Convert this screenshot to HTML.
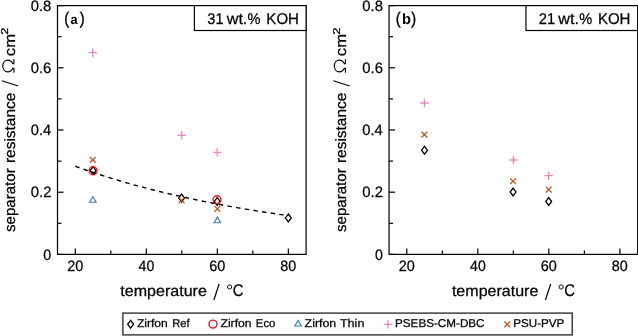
<!DOCTYPE html>
<html><head><meta charset="utf-8"><style>
html,body{margin:0;padding:0;background:#fff;}
svg{display:block;will-change:transform;}
text{font-family:"Liberation Sans",sans-serif;fill:#000;font-kerning:none;text-rendering:geometricPrecision;stroke:#000;stroke-width:0.25px;}
</style></head><body>
<svg width="638" height="336" viewBox="0 0 638 336">
<rect width="638" height="336" fill="#fff"/>
<line x1="57.50" y1="254.40" x2="63.50" y2="254.40" stroke="#000" stroke-width="1.2"/>
<text x="43.34" y="259.60" font-size="15" textLength="7.91" lengthAdjust="spacingAndGlyphs">0</text>
<line x1="57.50" y1="223.30" x2="61.50" y2="223.30" stroke="#000" stroke-width="1.2"/>
<line x1="57.50" y1="192.20" x2="63.50" y2="192.20" stroke="#000" stroke-width="1.2"/>
<text x="30.72" y="197.40" font-size="15" textLength="20.73" lengthAdjust="spacingAndGlyphs">0.2</text>
<line x1="57.50" y1="161.10" x2="61.50" y2="161.10" stroke="#000" stroke-width="1.2"/>
<line x1="57.50" y1="130.00" x2="63.50" y2="130.00" stroke="#000" stroke-width="1.2"/>
<text x="30.73" y="135.20" font-size="15" textLength="20.40" lengthAdjust="spacingAndGlyphs">0.4</text>
<line x1="57.50" y1="98.90" x2="61.50" y2="98.90" stroke="#000" stroke-width="1.2"/>
<line x1="57.50" y1="67.80" x2="63.50" y2="67.80" stroke="#000" stroke-width="1.2"/>
<text x="30.72" y="73.00" font-size="15" textLength="20.63" lengthAdjust="spacingAndGlyphs">0.6</text>
<line x1="57.50" y1="36.70" x2="61.50" y2="36.70" stroke="#000" stroke-width="1.2"/>
<line x1="57.50" y1="5.60" x2="63.50" y2="5.60" stroke="#000" stroke-width="1.2"/>
<text x="30.72" y="10.80" font-size="15" textLength="20.62" lengthAdjust="spacingAndGlyphs">0.8</text>
<line x1="75.26" y1="254.40" x2="75.26" y2="248.40" stroke="#000" stroke-width="1.2"/>
<text x="67.13" y="270.80" font-size="15" textLength="16.09" lengthAdjust="spacingAndGlyphs">20</text>
<line x1="110.77" y1="254.40" x2="110.77" y2="250.40" stroke="#000" stroke-width="1.2"/>
<line x1="146.29" y1="254.40" x2="146.29" y2="248.40" stroke="#000" stroke-width="1.2"/>
<text x="138.56" y="270.80" font-size="15" textLength="15.67" lengthAdjust="spacingAndGlyphs">40</text>
<line x1="181.80" y1="254.40" x2="181.80" y2="250.40" stroke="#000" stroke-width="1.2"/>
<line x1="217.31" y1="254.40" x2="217.31" y2="248.40" stroke="#000" stroke-width="1.2"/>
<text x="209.18" y="270.80" font-size="15" textLength="16.10" lengthAdjust="spacingAndGlyphs">60</text>
<line x1="252.83" y1="254.40" x2="252.83" y2="250.40" stroke="#000" stroke-width="1.2"/>
<line x1="288.34" y1="254.40" x2="288.34" y2="248.40" stroke="#000" stroke-width="1.2"/>
<text x="280.32" y="270.80" font-size="15" textLength="15.99" lengthAdjust="spacingAndGlyphs">80</text>
<path d="M93.10 166.70L96.05 170.60L93.10 174.50L90.15 170.60Z" fill="none" stroke="#000" stroke-width="1.3" stroke-linejoin="miter" stroke-miterlimit="10"/>
<path d="M181.60 194.20L184.55 198.10L181.60 202.00L178.65 198.10Z" fill="none" stroke="#000" stroke-width="1.3" stroke-linejoin="miter" stroke-miterlimit="10"/>
<path d="M217.20 197.50L220.15 201.40L217.20 205.30L214.25 201.40Z" fill="none" stroke="#000" stroke-width="1.3" stroke-linejoin="miter" stroke-miterlimit="10"/>
<path d="M288.33 214.00L291.28 217.90L288.33 221.80L285.38 217.90Z" fill="none" stroke="#000" stroke-width="1.3" stroke-linejoin="miter" stroke-miterlimit="10"/>
<circle cx="93.10" cy="170.70" r="4.0" fill="none" stroke="#e41a1c" stroke-width="1.4"/>
<circle cx="217.05" cy="199.75" r="4.0" fill="none" stroke="#e41a1c" stroke-width="1.4"/>
<path d="M92.85 196.55L96.10 202.20L89.60 202.20Z" fill="none" stroke="#377eb8" stroke-width="1.15" stroke-linejoin="miter" stroke-miterlimit="10"/>
<path d="M217.35 217.10L220.60 222.75L214.10 222.75Z" fill="none" stroke="#377eb8" stroke-width="1.15" stroke-linejoin="miter" stroke-miterlimit="10"/>
<path d="M88.60 52.70H97.00M92.80 48.50V56.90" stroke="#f781bf" stroke-width="1.3" fill="none"/>
<path d="M177.50 135.40H185.90M181.70 131.20V139.60" stroke="#f781bf" stroke-width="1.3" fill="none"/>
<path d="M213.00 152.40H221.40M217.20 148.20V156.60" stroke="#f781bf" stroke-width="1.3" fill="none"/>
<path d="M89.90 156.96L95.70 162.76M89.90 162.76L95.70 156.96" stroke="#b5561f" stroke-width="1.3" fill="none"/>
<path d="M178.70 197.40L184.50 203.20M178.70 203.20L184.50 197.40" stroke="#b5561f" stroke-width="1.3" fill="none"/>
<path d="M214.50 205.90L220.30 211.70M214.50 211.70L220.30 205.90" stroke="#b5561f" stroke-width="1.3" fill="none"/>
<polyline points="75.26,166.24 77.03,166.87 78.81,167.51 80.58,168.13 82.36,168.76 84.14,169.37 85.91,169.99 87.69,170.60 89.46,171.20 91.24,171.80 93.01,172.39 94.79,172.98 96.57,173.56 98.34,174.14 100.12,174.72 101.89,175.29 103.67,175.85 105.44,176.42 107.22,176.97 109.00,177.52 110.77,178.07 112.55,178.62 114.32,179.15 116.10,179.69 117.87,180.22 119.65,180.75 121.43,181.27 123.20,181.79 124.98,182.30 126.75,182.81 128.53,183.31 130.30,183.82 132.08,184.31 133.86,184.81 135.63,185.30 137.41,185.78 139.18,186.26 140.96,186.74 142.73,187.21 144.51,187.69 146.29,188.15 148.06,188.61 149.84,189.07 151.61,189.53 153.39,189.98 155.16,190.43 156.94,190.87 158.72,191.31 160.49,191.75 162.27,192.18 164.04,192.62 165.82,193.04 167.59,193.47 169.37,193.89 171.15,194.30 172.92,194.72 174.70,195.13 176.47,195.53 178.25,195.94 180.02,196.34 181.80,196.73 183.58,197.13 185.35,197.52 187.13,197.91 188.90,198.29 190.68,198.67 192.45,199.05 194.23,199.43 196.01,199.80 197.78,200.17 199.56,200.54 201.33,200.90 203.11,201.26 204.88,201.62 206.66,201.97 208.44,202.32 210.21,202.67 211.99,203.02 213.76,203.36 215.54,203.70 217.31,204.04 219.09,204.38 220.87,204.71 222.64,205.04 224.42,205.37 226.19,205.69 227.97,206.02 229.74,206.34 231.52,206.65 233.30,206.97 235.07,207.28 236.85,207.59 238.62,207.90 240.40,208.20 242.17,208.50 243.95,208.80 245.73,209.10 247.50,209.40 249.28,209.69 251.05,209.98 252.83,210.27 254.60,210.55 256.38,210.84 258.16,211.12 259.93,211.40 261.71,211.67 263.48,211.95 265.26,212.22 267.03,212.49 268.81,212.76 270.59,213.02 272.36,213.29 274.14,213.55 275.91,213.81 277.69,214.06 279.46,214.32 281.24,214.57 283.02,214.82 284.79,215.07 286.57,215.32 288.34,215.57" fill="none" stroke="#000" stroke-width="1.4" stroke-dasharray="4.45 4.3"/>
<rect x="57.50" y="5.60" width="248.60" height="248.80" fill="none" stroke="#000" stroke-width="1.2"/>
<rect x="194.40" y="5.60" width="111.7" height="24.90" fill="#fff" stroke="#000" stroke-width="1.2"/>
<text x="207.35" y="23.70" font-size="15.5" textLength="16.16" lengthAdjust="spacingAndGlyphs">31</text>
<text x="226.72" y="23.70" font-size="15.5" textLength="20.65" lengthAdjust="spacingAndGlyphs">wt.</text>
<text x="247.58" y="23.70" font-size="15.5" textLength="12.94" lengthAdjust="spacingAndGlyphs">%</text>
<text x="266.37" y="23.70" font-size="15.5" textLength="32.56" lengthAdjust="spacingAndGlyphs">KOH</text>
<text x="64.29" y="24.07" font-size="16.8" textLength="4.90" lengthAdjust="spacingAndGlyphs" style="stroke-width:0.35px">(</text>
<text x="70.53" y="23.90" font-size="13.7" font-weight="bold" textLength="7.09" lengthAdjust="spacingAndGlyphs" style="stroke-width:0">a</text>
<text x="79.81" y="24.07" font-size="16.8" textLength="4.90" lengthAdjust="spacingAndGlyphs" style="stroke-width:0.35px">)</text>
<text x="120.36" y="296.00" font-size="15.4" textLength="86.46" lengthAdjust="spacingAndGlyphs">temperature</text>
<line x1="213.90" y1="300" x2="219.10" y2="284" stroke="#000" stroke-width="1.2"/>
<circle cx="229.60" cy="286.95" r="2.1" fill="none" stroke="#000" stroke-width="0.95"/>
<text x="232.75" y="296.20" font-size="17" textLength="10.72" lengthAdjust="spacingAndGlyphs">C</text>
<g transform="translate(14.50,0) rotate(-90)">
<text x="-232.02" y="0.00" font-size="15" textLength="63.67" lengthAdjust="spacingAndGlyphs">separator</text>
<text x="-163.02" y="0.00" font-size="15" textLength="70.31" lengthAdjust="spacingAndGlyphs">resistance</text>
<text x="-56.21" y="0.00" font-size="15" textLength="22.21" lengthAdjust="spacingAndGlyphs">cm</text>
<path transform="translate(-72.7,0)" d="M4.4 -0.6L4.4 -1.7C2.0 -2.9 0.8 -4.7 0.8 -6.7C0.8 -9.7 3.4 -11.7 6.7 -11.7C10.0 -11.7 12.6 -9.7 12.6 -6.7C12.6 -4.7 11.4 -2.9 9.0 -1.7L9.0 -0.6M0 -0.6H4.95M8.45 -0.6H13.4" fill="none" stroke="#000" stroke-width="1.15"/>
<text x="-34.65" y="-6.50" font-size="10" textLength="7.20" lengthAdjust="spacingAndGlyphs">2</text>
</g>
<line x1="1.90" y1="80.7" x2="18.10" y2="86.0" stroke="#000" stroke-width="1.2"/>
<line x1="389.05" y1="254.40" x2="395.05" y2="254.40" stroke="#000" stroke-width="1.2"/>
<text x="374.89" y="259.60" font-size="15" textLength="7.91" lengthAdjust="spacingAndGlyphs">0</text>
<line x1="389.05" y1="223.30" x2="393.05" y2="223.30" stroke="#000" stroke-width="1.2"/>
<line x1="389.05" y1="192.20" x2="395.05" y2="192.20" stroke="#000" stroke-width="1.2"/>
<text x="362.27" y="197.40" font-size="15" textLength="20.73" lengthAdjust="spacingAndGlyphs">0.2</text>
<line x1="389.05" y1="161.10" x2="393.05" y2="161.10" stroke="#000" stroke-width="1.2"/>
<line x1="389.05" y1="130.00" x2="395.05" y2="130.00" stroke="#000" stroke-width="1.2"/>
<text x="362.28" y="135.20" font-size="15" textLength="20.40" lengthAdjust="spacingAndGlyphs">0.4</text>
<line x1="389.05" y1="98.90" x2="393.05" y2="98.90" stroke="#000" stroke-width="1.2"/>
<line x1="389.05" y1="67.80" x2="395.05" y2="67.80" stroke="#000" stroke-width="1.2"/>
<text x="362.27" y="73.00" font-size="15" textLength="20.63" lengthAdjust="spacingAndGlyphs">0.6</text>
<line x1="389.05" y1="36.70" x2="393.05" y2="36.70" stroke="#000" stroke-width="1.2"/>
<line x1="389.05" y1="5.60" x2="395.05" y2="5.60" stroke="#000" stroke-width="1.2"/>
<text x="362.27" y="10.80" font-size="15" textLength="20.62" lengthAdjust="spacingAndGlyphs">0.8</text>
<line x1="406.81" y1="254.40" x2="406.81" y2="248.40" stroke="#000" stroke-width="1.2"/>
<text x="398.68" y="270.80" font-size="15" textLength="16.09" lengthAdjust="spacingAndGlyphs">20</text>
<line x1="442.32" y1="254.40" x2="442.32" y2="250.40" stroke="#000" stroke-width="1.2"/>
<line x1="477.84" y1="254.40" x2="477.84" y2="248.40" stroke="#000" stroke-width="1.2"/>
<text x="470.11" y="270.80" font-size="15" textLength="15.67" lengthAdjust="spacingAndGlyphs">40</text>
<line x1="513.35" y1="254.40" x2="513.35" y2="250.40" stroke="#000" stroke-width="1.2"/>
<line x1="548.86" y1="254.40" x2="548.86" y2="248.40" stroke="#000" stroke-width="1.2"/>
<text x="540.73" y="270.80" font-size="15" textLength="16.10" lengthAdjust="spacingAndGlyphs">60</text>
<line x1="584.38" y1="254.40" x2="584.38" y2="250.40" stroke="#000" stroke-width="1.2"/>
<line x1="619.89" y1="254.40" x2="619.89" y2="248.40" stroke="#000" stroke-width="1.2"/>
<text x="611.87" y="270.80" font-size="15" textLength="15.99" lengthAdjust="spacingAndGlyphs">80</text>
<path d="M424.50 146.30L427.45 150.20L424.50 154.10L421.55 150.20Z" fill="none" stroke="#000" stroke-width="1.3" stroke-linejoin="miter" stroke-miterlimit="10"/>
<path d="M513.10 188.10L516.05 192.00L513.10 195.90L510.15 192.00Z" fill="none" stroke="#000" stroke-width="1.3" stroke-linejoin="miter" stroke-miterlimit="10"/>
<path d="M548.70 197.60L551.65 201.50L548.70 205.40L545.75 201.50Z" fill="none" stroke="#000" stroke-width="1.3" stroke-linejoin="miter" stroke-miterlimit="10"/>
<path d="M420.20 103.00H428.60M424.40 98.80V107.20" stroke="#f781bf" stroke-width="1.3" fill="none"/>
<path d="M509.20 160.00H517.60M513.40 155.80V164.20" stroke="#f781bf" stroke-width="1.3" fill="none"/>
<path d="M544.50 175.70H552.90M548.70 171.50V179.90" stroke="#f781bf" stroke-width="1.3" fill="none"/>
<path d="M421.50 131.70L427.30 137.50M421.50 137.50L427.30 131.70" stroke="#b5561f" stroke-width="1.3" fill="none"/>
<path d="M510.20 178.35L516.00 184.15M510.20 184.15L516.00 178.35" stroke="#b5561f" stroke-width="1.3" fill="none"/>
<path d="M545.80 186.65L551.60 192.45M545.80 192.45L551.60 186.65" stroke="#b5561f" stroke-width="1.3" fill="none"/>
<rect x="389.05" y="5.60" width="248.60" height="248.80" fill="none" stroke="#000" stroke-width="1.2"/>
<rect x="525.95" y="5.60" width="111.7" height="24.90" fill="#fff" stroke="#000" stroke-width="1.2"/>
<text x="538.71" y="23.70" font-size="15.5" textLength="16.36" lengthAdjust="spacingAndGlyphs">21</text>
<text x="558.27" y="23.70" font-size="15.5" textLength="20.65" lengthAdjust="spacingAndGlyphs">wt.</text>
<text x="579.13" y="23.70" font-size="15.5" textLength="12.94" lengthAdjust="spacingAndGlyphs">%</text>
<text x="597.92" y="23.70" font-size="15.5" textLength="32.56" lengthAdjust="spacingAndGlyphs">KOH</text>
<text x="395.84" y="24.07" font-size="16.8" textLength="4.90" lengthAdjust="spacingAndGlyphs" style="stroke-width:0.35px">(</text>
<text x="401.98" y="23.90" font-size="15" font-weight="bold" textLength="8.97" lengthAdjust="spacingAndGlyphs" style="stroke-width:0">b</text>
<text x="411.36" y="24.07" font-size="16.8" textLength="4.90" lengthAdjust="spacingAndGlyphs" style="stroke-width:0.35px">)</text>
<text x="451.91" y="296.00" font-size="15.4" textLength="86.46" lengthAdjust="spacingAndGlyphs">temperature</text>
<line x1="545.45" y1="300" x2="550.65" y2="284" stroke="#000" stroke-width="1.2"/>
<circle cx="561.15" cy="286.95" r="2.1" fill="none" stroke="#000" stroke-width="0.95"/>
<text x="564.30" y="296.20" font-size="17" textLength="10.72" lengthAdjust="spacingAndGlyphs">C</text>
<g transform="translate(346.05,0) rotate(-90)">
<text x="-232.02" y="0.00" font-size="15" textLength="63.67" lengthAdjust="spacingAndGlyphs">separator</text>
<text x="-163.02" y="0.00" font-size="15" textLength="70.31" lengthAdjust="spacingAndGlyphs">resistance</text>
<text x="-56.21" y="0.00" font-size="15" textLength="22.21" lengthAdjust="spacingAndGlyphs">cm</text>
<path transform="translate(-72.7,0)" d="M4.4 -0.6L4.4 -1.7C2.0 -2.9 0.8 -4.7 0.8 -6.7C0.8 -9.7 3.4 -11.7 6.7 -11.7C10.0 -11.7 12.6 -9.7 12.6 -6.7C12.6 -4.7 11.4 -2.9 9.0 -1.7L9.0 -0.6M0 -0.6H4.95M8.45 -0.6H13.4" fill="none" stroke="#000" stroke-width="1.15"/>
<text x="-34.65" y="-6.50" font-size="10" textLength="7.20" lengthAdjust="spacingAndGlyphs">2</text>
</g>
<line x1="333.45" y1="80.7" x2="349.65" y2="86.0" stroke="#000" stroke-width="1.2"/>
<rect x="122.9" y="313.1" width="449.3" height="21.8" fill="#fff" stroke="#222" stroke-width="1.3"/>
<path d="M130.60 320.35L133.55 324.25L130.60 328.15L127.65 324.25Z" fill="none" stroke="#000" stroke-width="1.3" stroke-linejoin="miter" stroke-miterlimit="10"/>
<circle cx="213.00" cy="324.10" r="4.0" fill="none" stroke="#e41a1c" stroke-width="1.4"/>
<path d="M298.10 320.45L301.35 326.00L294.85 326.00Z" fill="none" stroke="#377eb8" stroke-width="1.15" stroke-linejoin="miter" stroke-miterlimit="10"/>
<path d="M383.70 324.30H392.10M387.90 320.10V328.50" stroke="#f781bf" stroke-width="1.3" fill="none"/>
<path d="M504.40 321.50L510.20 327.30M504.40 327.30L510.20 321.50" stroke="#b5561f" stroke-width="1.3" fill="none"/>
<text x="136.97" y="327.00" font-size="11.4" textLength="30.82" lengthAdjust="spacingAndGlyphs">Zirfon</text>
<text x="172.18" y="327.00" font-size="11.4" textLength="17.40" lengthAdjust="spacingAndGlyphs">Ref</text>
<text x="220.41" y="327.00" font-size="11.4" textLength="31.28" lengthAdjust="spacingAndGlyphs">Zirfon</text>
<text x="255.87" y="327.00" font-size="11.4" textLength="19.50" lengthAdjust="spacingAndGlyphs">Eco</text>
<text x="304.61" y="327.00" font-size="11.4" textLength="31.59" lengthAdjust="spacingAndGlyphs">Zirfon</text>
<text x="339.92" y="327.00" font-size="11.4" textLength="24.50" lengthAdjust="spacingAndGlyphs">Thin</text>
<text x="395.04" y="327.00" font-size="11.4" textLength="89.50" lengthAdjust="spacingAndGlyphs">PSEBS-CM-DBC</text>
<text x="513.24" y="327.00" font-size="11.4" textLength="51.17" lengthAdjust="spacingAndGlyphs">PSU-PVP</text>
</svg>
</body></html>
